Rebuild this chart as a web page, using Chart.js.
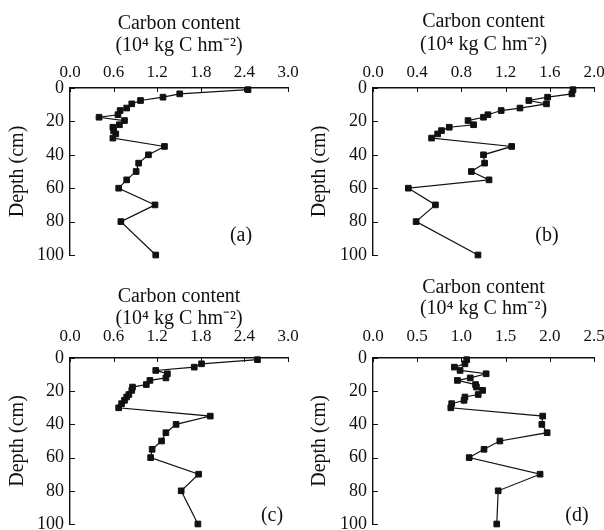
<!DOCTYPE html>
<html>
<head>
<meta charset="utf-8">
<script src="https://cdn.jsdelivr.net/npm/chart.js@4.4.1/dist/chart.umd.min.js"></script>
<style>
  body { margin: 0; background: #fff; }
  #wrap { position: relative; width: 604px; height: 530px; overflow: hidden; }
  #wrap canvas { position: absolute; }
</style>
</head>
<body>
<div id="wrap">
  <canvas id="pa" width="302" height="265" style="left:0;top:0"></canvas>
  <canvas id="pb" width="302" height="265" style="left:302px;top:0"></canvas>
  <canvas id="pc" width="302" height="260" style="left:0;top:270px"></canvas>
  <canvas id="pd" width="302" height="260" style="left:302px;top:270px"></canvas>
</div>
<script>
// sampling depths (cm), shared by all four profiles
const depth = [1, 3.5, 5.5, 7.5, 9.5, 12, 13.5, 16, 17.5, 19.5, 22, 23.5, 25.5, 27.5, 30,
               35, 40, 45, 50, 55, 60, 70, 80, 100];

// carbon content, 10^4 kg C hm^-2
const carbonA = [2.45, 1.51, 1.28, 0.97, 0.85, 0.78, 0.69, 0.66, 0.40, 0.75, 0.68, 0.59, 0.60, 0.63, 0.59,
                 1.30, 1.08, 0.945, 0.91, 0.78, 0.67, 1.17, 0.70, 1.18];
const carbonB = [1.81, 1.80, 1.58, 1.41, 1.57, 1.33, 1.16, 1.04, 1.00, 0.86, 0.91, 0.69, 0.62, 0.585, 0.53,
                 1.255, 1.00, 1.01, 0.89, 1.05, 0.32, 0.565, 0.39, 0.95];
const carbonC = [2.58, 1.81, 1.71, 1.18, 1.34, 1.32, 1.10, 1.05, 0.86, 0.85, 0.81, 0.78, 0.75, 0.71, 0.67,
                 1.93, 1.46, 1.32, 1.26, 1.13, 1.11, 1.77, 1.53, 1.76];
const carbonD = [1.06, 1.04, 0.92, 0.985, 1.28, 1.10, 0.955, 1.16, 1.17, 1.24, 1.19, 1.04, 1.03, 0.89, 0.88,
                 1.92, 1.91, 1.97, 1.435, 1.256, 1.088, 1.89, 1.416, 1.40];

const ticksA = [0, 0.6, 1.2, 1.8, 2.4, 3.0];
const ticksB = [0, 0.4, 0.8, 1.2, 1.6, 2.0];
const ticksC = [0, 0.6, 1.2, 1.8, 2.4, 3.0];
const ticksD = [0, 0.5, 1.0, 1.5, 2.0, 2.5];
const depthTicks = [0, 20, 40, 60, 80, 100];

const xTitle = ['Carbon content', '(10\u2074 kg C hm\u207B\u00B2)'];
const yTitle = 'Depth (cm)';

const FONT = "'Liberation Serif', 'Times New Roman', serif";
const INK = '#111';

// short ticks pointing into the plot, plus the (a)/(b)... tag
const innerTicks = {
  id: 'innerTicks',
  afterDraw(chart, args, opts) {
    const {ctx, chartArea: a, scales: {x, y}} = chart;
    ctx.save();
    ctx.strokeStyle = INK;
    ctx.lineWidth = 1;
    ctx.beginPath();
    x.ticks.forEach(t => {
      const px = Math.round(x.getPixelForValue(t.value)) + 0.5;
      ctx.moveTo(px, a.top);
      ctx.lineTo(px, a.top + 4);
    });
    y.ticks.forEach(t => {
      const py = Math.round(y.getPixelForValue(t.value)) + 0.5;
      ctx.moveTo(a.left, py);
      ctx.lineTo(a.left + 5, py);
    });
    ctx.stroke();
    ctx.fillStyle = INK;
    ctx.font = '20px ' + FONT;
    ctx.textAlign = 'center';
    ctx.textBaseline = 'middle';
    ctx.fillText(opts.tag, a.right - opts.dx, a.bottom - opts.dy);
    ctx.restore();
  }
};

const panels = [
  {id: 'pa', tag: '(a)', values: carbonA, ticks: ticksA, yw: 70, right: 14, bottom: 10,
   t1: 23.5, lh: 22, tickPad: 5.3, dx: 47, dy: 19},
  {id: 'pb', tag: '(b)', values: carbonB, ticks: ticksB, yw: 71, right: 10, bottom: 10,
   t1: 22, lh: 22.5, tickPad: 5.3, dx: 47, dy: 19},
  {id: 'pc', tag: '(c)', values: carbonC, ticks: ticksC, yw: 70, right: 14, bottom: 6,
   t1: 27, lh: 21.5, tickPad: 10.8, dx: 16, dy: 8},
  {id: 'pd', tag: '(d)', values: carbonD, ticks: ticksD, yw: 71, right: 10, bottom: 6,
   t1: 18, lh: 20.5, tickPad: 10.8, dx: 17, dy: 8}
];

panels.forEach(p => {
  const pts = depth.map((d, i) => ({x: p.values[i], y: d}));
  new Chart(document.getElementById(p.id), {
    type: 'scatter',
    data: {
      datasets: [{
        data: pts,
        showLine: true,
        clip: false,
        borderColor: INK,
        borderWidth: 1.2,
        pointStyle: 'rect',
        pointRadius: 4,
        pointBackgroundColor: INK,
        pointBorderColor: INK,
        pointBorderWidth: 1
      }]
    },
    options: {
      responsive: false,
      animation: false,
      events: [],
      layout: { padding: { left: 0, top: 0, right: p.right, bottom: p.bottom } },
      plugins: {
        legend: { display: false },
        tooltip: { enabled: false },
        innerTicks: { tag: p.tag, dx: p.dx, dy: p.dy }
      },
      scales: {
        x: {
          type: 'linear',
          position: 'top',
          min: 0,
          max: p.ticks[p.ticks.length - 1],
          afterBuildTicks: s => { s.ticks = p.ticks.map(v => ({value: v})); },
          afterFit: s => { s.height = 88; s.paddingLeft = 0; s.paddingRight = 0; },
          grid: { display: false, drawTicks: false },
          border: { display: true, color: INK, width: 1.4 },
          ticks: {
            padding: p.tickPad,
            color: INK,
            maxRotation: 0,
            font: { family: FONT, size: 17 },
            callback: v => Number(v).toFixed(1)
          },
          title: {
            display: true,
            text: xTitle,
            color: INK,
            font: { family: FONT, size: 20, lineHeight: p.lh / 20 },
            padding: { top: p.t1 - p.lh / 2, bottom: 0 }
          }
        },
        y: {
          type: 'linear',
          reverse: true,
          min: 0,
          max: 100,
          afterBuildTicks: s => { s.ticks = depthTicks.map(v => ({value: v})); },
          afterFit: s => { s.width = p.yw; s.paddingTop = 0; s.paddingBottom = 0; },
          grid: { display: false, drawTicks: false },
          border: { display: true, color: INK, width: 1.4 },
          ticks: {
            padding: 6,
            color: INK,
            font: { family: FONT, size: 18 },
            callback: v => String(v)
          },
          title: {
            display: true,
            text: yTitle,
            color: INK,
            font: { family: FONT, size: 20, lineHeight: 1.2 },
            padding: { top: 6, bottom: 0 }
          }
        }
      }
    },
    plugins: [innerTicks]
  });
});
</script>
</body>
</html>
